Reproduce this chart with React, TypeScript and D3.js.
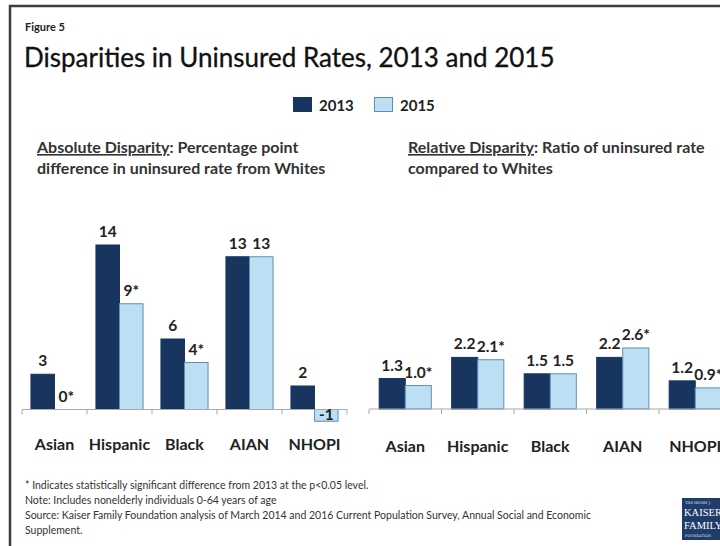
import React from "react";
import * as d3 from "d3";

const categories = ["Asian", "Hispanic", "Black", "AIAN", "NHOPI"];
const years = ["2013", "2015"];
const abs2013 = [3, 14, 6, 13, 2];
const abs2015 = [0, 9, 4, 13, -1];
const abs2013Labels = ["3", "14", "6", "13", "2"];
const abs2015Labels = ["0*", "9*", "4*", "13", "-1"];
const rel2013 = [1.3, 2.2, 1.5, 2.2, 1.2];
const rel2015 = [1.0, 2.1, 1.5, 2.6, 0.9];
const rel2013Labels = ["1.3", "2.2", "1.5", "2.2", "1.2"];
const rel2015Labels = ["1.0*", "2.1*", "1.5", "2.6*", "0.9*"];
const footnotes = [
  "* Indicates statistically significant difference from 2013 at the p<0.05 level.",
  "Note: Includes nonelderly individuals 0-64 years of age",
  "Source: Kaiser Family Foundation analysis of March 2014 and 2016 Current Population Survey, Annual Social and Economic",
  "Supplement.",
];

const DARK = "#17355f";
const LIGHT = "#bcdff4";
const LIGHT_STROKE = "#5f8fb5";
const FONT = "Lato, 'Open Sans', sans-serif";

type PanelProps = {
  x0: number;
  x1: number;
  zeroY: number;
  maxV: number;
  maxY: number;
  outerPad: number;
  v13: number[];
  v15: number[];
  l13: string[];
  l15: string[];
  catY: number;
};

function Panel(p: PanelProps) {
  const x = d3.scaleBand<string>().domain(categories).range([p.x0, p.x1]).padding(0);
  const sub = d3
    .scaleBand<string>()
    .domain(years)
    .range([0, x.bandwidth()])
    .paddingInner(0)
    .paddingOuter(p.outerPad);
  const y = d3.scaleLinear().domain([0, p.maxV]).range([p.zeroY, p.maxY]);
  const series = [
    { year: "2013", vals: p.v13, labels: p.l13, fill: DARK, stroke: DARK },
    { year: "2015", vals: p.v15, labels: p.l15, fill: LIGHT, stroke: LIGHT_STROKE },
  ];
  const ticks = categories.map((c) => x(c)!).concat([p.x1]);
  return (
    <g>
      {series.map((s) =>
        categories.map((c, i) => {
          const v = s.vals[i];
          const bx = x(c)! + sub(s.year)!;
          const top = Math.min(y(v), y(0));
          const h = Math.abs(y(v) - y(0));
          return (
            <rect
              key={s.year + c}
              x={bx}
              y={top}
              width={sub.bandwidth()}
              height={h}
              fill={s.fill}
              stroke={s.stroke}
              strokeWidth={1}
            />
          );
        })
      )}
      <line x1={p.x0} x2={p.x1} y1={y(0)} y2={y(0)} stroke="#a9a9a9" strokeWidth={1.2} />
      {ticks.map((t, i) => (
        <line key={i} x1={t} x2={t} y1={y(0)} y2={y(0) + 5} stroke="#a9a9a9" strokeWidth={1} />
      ))}
      {series.map((s) =>
        categories.map((c, i) => {
          const v = s.vals[i];
          const cx = x(c)! + sub(s.year)! + sub.bandwidth() / 2;
          const ly = v >= 0 ? y(v) - 8 : y(v) - 1;
          return (
            <text
              key={"l" + s.year + c}
              x={cx}
              y={ly}
              textAnchor="middle"
              fontFamily={FONT}
              fontWeight={700}
              fontSize={15.5}
              fill="#222"
            >
              {s.labels[i]}
            </text>
          );
        })
      )}
      {categories.map((c) => (
        <text
          key={"c" + c}
          x={x(c)! + x.bandwidth() / 2}
          y={p.catY}
          textAnchor="middle"
          fontFamily={FONT}
          fontWeight={700}
          fontSize={16}
          fill="#222"
        >
          {c}
        </text>
      ))}
    </g>
  );
}

export default function App() {
  return (
    <svg
      width={720}
      height={546}
      style={{ position: "absolute", left: 0, top: 0, background: "#fff" }}
    >
      <rect x={0} y={0} width={720} height={546} fill="#fff" />
      <path d="M10,546 L10,6 L722,6" fill="none" stroke="#3d3d3d" strokeWidth={2.5} />
      <text x={25} y={31} fontFamily={FONT} fontWeight={700} fontSize={11} fill="#222">
        Figure 5
      </text>
      <text x={24} y={67} fontFamily={FONT} fontWeight={400} fontSize={26} fill="#111" stroke="#111" strokeWidth={0.3}>
        Disparities in Uninsured Rates, 2013 and 2015
      </text>
      {/* legend */}
      <rect x={293} y={97} width={19} height={15} fill={DARK} />
      <text x={319} y={111} fontFamily={FONT} fontWeight={700} fontSize={15} fill="#222">
        {years[0]}
      </text>
      <rect x={374.5} y={97.5} width={18} height={14} fill={LIGHT} stroke={LIGHT_STROKE} />
      <text x={400} y={111} fontFamily={FONT} fontWeight={700} fontSize={15} fill="#222">
        {years[1]}
      </text>
      {/* subtitles */}
      <text x={37} y={153} fontFamily={FONT} fontWeight={700} fontSize={16} fill="#333">
        <tspan textDecoration="underline">Absolute Disparity</tspan>
        <tspan>: Percentage point</tspan>
      </text>
      <text x={37} y={174} fontFamily={FONT} fontWeight={700} fontSize={16} fill="#333">
        difference in uninsured rate from Whites
      </text>
      <text x={408} y={153} fontFamily={FONT} fontWeight={700} fontSize={16} fill="#333">
        <tspan textDecoration="underline">Relative Disparity</tspan>
        <tspan>: Ratio of uninsured rate</tspan>
      </text>
      <text x={408} y={174} fontFamily={FONT} fontWeight={700} fontSize={16} fill="#333">
        compared to Whites
      </text>
      <Panel
        x0={22}
        x1={347}
        zeroY={409.5}
        maxV={14}
        maxY={245}
        outerPad={0.38}
        v13={abs2013}
        v15={abs2015}
        l13={abs2013Labels}
        l15={abs2015Labels}
        catY={450}
      />
      <Panel
        x0={369}
        x1={731.5}
        zeroY={409}
        maxV={2.6}
        maxY={348}
        outerPad={0.39}
        v13={rel2013}
        v15={rel2015}
        l13={rel2013Labels}
        l15={rel2015Labels}
        catY={452}
      />
      {footnotes.map((f, i) => (
        <text key={i} x={25} y={489 + i * 15} fontFamily={FONT} fontSize={10.5} fill="#333">
          {f}
        </text>
      ))}
      {/* logo */}
      <g>
        <rect x={682} y={498} width={44} height={42} fill="#1f3c6b" />
        <text x={685} y={504} fontFamily="'DejaVu Serif', serif" fontSize={3.5} fill="#dfe6f0">
          THE HENRY J.
        </text>
        <text x={684} y={516} fontFamily="'Liberation Serif', serif" fontSize={10.5} fill="#fff">
          KAISER
        </text>
        <text x={684} y={529} fontFamily="'Liberation Serif', serif" fontSize={10.5} fill="#fff">
          FAMILY
        </text>
        <text x={685} y={537} fontFamily="'DejaVu Serif', serif" fontSize={3.5} fill="#dfe6f0">
          FOUNDATION
        </text>
      </g>
    </svg>
  );
}
